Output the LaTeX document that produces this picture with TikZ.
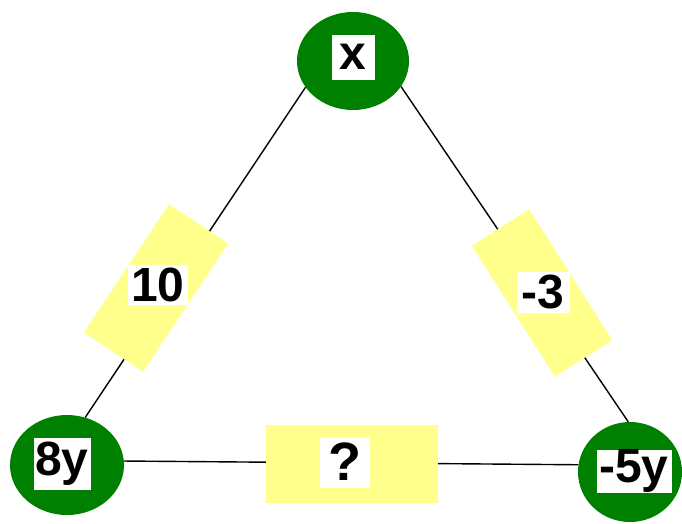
\documentclass[tikz,border=0pt]{standalone}
\usepackage{fontspec}
\setmainfont{Liberation Sans}
\usetikzlibrary{shapes.geometric}
\definecolor{dgreen}{RGB}{0,128,0}
\definecolor{lyellow}{RGB}{255,255,140}
\tikzset{
  vertex/.style={ellipse, fill=dgreen, inner sep=0pt},
  band/.style={rectangle, fill=lyellow, inner sep=0pt, minimum width=154pt, minimum height=71pt},
  tag/.style={rectangle, fill=white, inner sep=0pt, font=\bfseries\fontsize{48}{50}\selectfont},
  edge/.style={draw=black, line width=1.4pt}
}
\begin{document}
\begin{tikzpicture}[x=1pt,y=-1pt]
\useasboundingbox (0,0) rectangle (682,523);
% vertices
\node[vertex, minimum width=112pt, minimum height=98pt] (top) at (353,61) {};
\node[vertex, minimum width=114pt, minimum height=100pt] (bl) at (67,465) {};
\node[vertex, minimum width=104pt, minimum height=100pt] (br) at (630,472) {};
% connectors
\draw[edge] (top.209) -- (bl.69);
\draw[edge] (top.332) -- (br.92);
\draw[edge] (bl.4) -- (br.172);
% yellow bands
\node[band, rotate=56.4] (bandl) at (156,288) {};
\node[band, rotate=-57.6, minimum height=68pt, minimum width=155pt] (bandr) at (542,293) {};
\node[band, minimum width=172pt, minimum height=78pt] (bandb) at (352,464) {};
% labels
\node[tag, minimum width=43pt, minimum height=45pt] (lx) at (353,57) {x};
\node[tag, minimum width=57pt, minimum height=52pt] (l8y) at (62,464) {8y};
\node[tag, minimum width=75pt, minimum height=43pt] (l5y) at (634,471) {-5y};
\node[tag, minimum width=60pt, minimum height=40pt] (l10) at (158,285) {10};
\node[tag, minimum width=53pt, minimum height=41pt] (l3) at (543,292) {-3};
\node[tag, minimum width=50pt, minimum height=51pt, font=\bfseries\fontsize{54}{56}\selectfont] (lq) at (345,462) {?};
\end{tikzpicture}
\end{document}
